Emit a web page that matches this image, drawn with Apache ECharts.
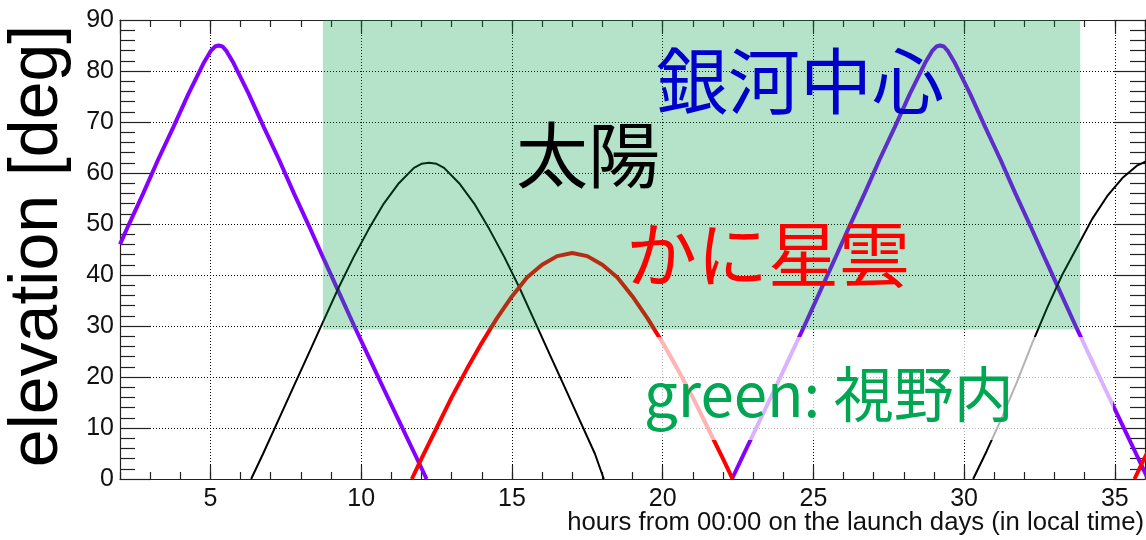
<!DOCTYPE html>
<html>
<head>
<meta charset="utf-8">
<script src="https://cdn.jsdelivr.net/npm/echarts@6/dist/echarts.min.js"></script>
<style>
  html, body { margin: 0; padding: 0; background: #ffffff; }
  #chart { width: 1146px; height: 540px; }
</style>
</head>
<body>
<div id="chart"></div>
<script>
// Elevation of the Galactic Centre, the Sun and the Crab Nebula, [hour, elevation deg]
const gcDay1 = [[2.0,46],[2.27,49.6],[2.77,56],[3.27,62.7],[3.77,69],[4.27,75.5],[4.52,78.5],[4.77,81.5],[5.02,84],[5.15,84.8],[5.27,85],[5.4,84.8],[5.52,84],[5.77,81.5],[6.02,78.5],[6.27,75.5],[6.77,69],[7.27,62.7],[7.77,56],[8.27,49.6],[8.77,43],[9.27,36.5],[9.77,30],[10.27,23.7],[10.77,17.4],[11.27,11.2],[11.77,5],[12.17,0]];
const gcDay2 = [[22.3,0],[22.7,5],[23.2,11.2],[23.7,17.4],[24.2,23.7],[24.7,30],[25.2,36.5],[25.7,43],[26.2,49.6],[26.7,56],[27.2,62.7],[27.7,69],[28.2,75.5],[28.45,78.5],[28.7,81.5],[28.95,84],[29.08,84.8],[29.2,85],[29.33,84.8],[29.45,84],[29.7,81.5],[29.95,78.5],[30.2,75.5],[30.7,69],[31.2,62.7],[31.7,56],[32.2,49.6],[32.7,43],[33.2,36.5],[33.7,30],[34.2,23.7],[34.7,17.4],[35.2,11.2],[35.7,5],[36.1,0]];
const sunDay1 = [[6.35,0],[6.75,5],[7.25,11.5],[7.75,18],[8.25,24.5],[8.75,31],[9.25,37.5],[9.75,43.5],[10.25,49],[10.75,54],[11.25,58],[11.75,61],[12.0,61.8],[12.25,62],[12.5,61.8],[12.75,61],[13.25,58],[13.75,54],[14.25,49],[14.75,43.5],[15.25,37.5],[15.75,31],[16.25,24.5],[16.75,18],[17.25,11.5],[17.75,5],[18.05,0]];
const sunDay2 = [[30.3,0],[30.75,5.5],[31.25,12],[31.75,19],[32.25,26.5],[32.75,33.5],[33.25,40],[33.75,45.5],[34.25,51],[34.75,55.5],[35.25,59],[35.75,61.5],[36.0,62.2],[36.25,62.5]];
const crabDay1 = [[11.68,0],[12,4],[12.5,10],[13,16],[13.5,21.5],[14,26.7],[14.5,31.5],[15,35.8],[15.5,39.5],[16,42],[16.5,43.7],[17,44.3],[17.5,43.7],[18,42],[18.5,39.5],[19,35.8],[19.5,31.5],[20,26.7],[20.5,21.5],[21,16],[21.5,10],[22,4],[22.32,0]];
const crabDay2 = [[35.65,0],[36,4.3],[36.5,10]];

// Field-of-view window: [start hour, min elevation, end hour, max elevation]
const fieldOfView = [[8.73, 29.3, 33.85, 90]];

// Axis ranges
const hourRange = [2, 36];
const elevRange = [0, 90];

const labelNames = {
  gc: '銀河中心',
  sun: '太陽',
  crab: 'かに星雲',
  fov: 'green: 視野内',
  xTitle: 'hours from 00:00 on the launch days (in local time)',
  yTitle: 'elevation [deg]'
};

const FRAME = '#222';
const NUM_FONT = 'Liberation Sans, Arial, sans-serif';
const JP_FONT = '"Noto Sans CJK JP", "Noto Sans", sans-serif';

const chart = echarts.init(document.getElementById('chart'), null, { renderer: 'canvas' });

function xAxisDef(position, major) {
  const ax = {
    type: 'value', position: position, min: hourRange[0], max: hourRange[1],
    axisLine: { show: major, lineStyle: { color: FRAME, width: 1.2 } },
    axisTick: { show: true, inside: true, length: major ? 14 : 7, lineStyle: { color: FRAME, width: 1.2 } },
    axisLabel: { show: false },
    splitLine: { show: false }
  };
  if (major) {
    ax.splitNumber = 5;
  } else {
    ax.interval = 1;
  }
  if (major && position === 'bottom') {
    ax.axisLabel = { show: true, fontSize: 25, color: '#111', fontFamily: NUM_FONT, margin: 8,
                     showMinLabel: false, showMaxLabel: false };
    ax.splitLine = { show: true, lineStyle: { color: '#000', width: 1, type: [1, 2] } };
  }
  return ax;
}

function yAxisDef(position) {
  const left = position === 'left';
  return {
    type: 'value', position: position, min: elevRange[0], max: elevRange[1], interval: 10,
    axisLine: { show: true, lineStyle: { color: FRAME, width: 1.2 } },
    axisTick: { show: true, inside: true, length: 31, lineStyle: { color: FRAME, width: 1.2 } },
    minorTick: { show: true, splitNumber: 5, length: 15, lineStyle: { color: FRAME, width: 1.2 } },
    axisLabel: left ? { show: true, fontSize: 25, color: '#111', fontFamily: NUM_FONT, margin: 6 } : { show: false },
    splitLine: left ? { show: true, lineStyle: { color: '#000', width: 1, type: [1, 2] } } : { show: false }
  };
}

function lineSeries(data, color, width) {
  return {
    type: 'line', data: data, xAxisIndex: 0, yAxisIndex: 0,
    showSymbol: false, symbol: 'none', z: 2,
    lineStyle: { color: color, width: width },
    silent: true
  };
}

const GC_COLOR = '#8400ff';

chart.setOption({
  animation: false,
  backgroundColor: '#ffffff',
  grid: { left: 120, right: 1, top: 20, bottom: 61, containLabel: false },
  xAxis: [xAxisDef('bottom', true), xAxisDef('bottom', false), xAxisDef('top', true), xAxisDef('top', false)],
  yAxis: [yAxisDef('left'), yAxisDef('right')],
  series: [
    lineSeries(gcDay1, GC_COLOR, 4),
    lineSeries(gcDay2, GC_COLOR, 4),
    lineSeries(sunDay1, '#000000', 2),
    lineSeries(sunDay2, '#000000', 2),
    lineSeries(crabDay1, '#ff0000', 4),
    lineSeries(crabDay2, '#ff0000', 4),
    {
      type: 'custom', xAxisIndex: 0, yAxisIndex: 0, z: 3, silent: true, clip: true,
      data: fieldOfView,
      encode: { x: [0, 2], y: [1, 3] },
      renderItem: function (params, api) {
        const p0 = api.coord([api.value(0), api.value(3)]);
        const p1 = api.coord([api.value(2), api.value(1)]);
        return {
          type: 'rect',
          shape: { x: p0[0], y: p0[1], width: p1[0] - p0[0], height: p1[1] - p0[1] },
          style: { fill: 'rgba(0,159,69,0.29)' }
        };
      }
    }
  ],
  graphic: [
    { type: 'rect', z: 50, silent: true,
      shape: { x: 633, y: 337, width: 480, height: 103 },
      style: { fill: 'rgba(255,255,255,0.7)' } },
    { type: 'text', z: 60, x: 656, y: 81, silent: true,
      style: { text: labelNames.gc, font: '72px ' + JP_FONT, fill: '#0000cd', align: 'left', verticalAlign: 'middle' } },
    { type: 'text', z: 60, x: 516, y: 155, silent: true,
      style: { text: labelNames.sun, font: '72px ' + JP_FONT, fill: '#000000', align: 'left', verticalAlign: 'middle' } },
    { type: 'text', z: 60, x: 626, y: 254, silent: true,
      style: { text: labelNames.crab, font: '71px ' + JP_FONT, fill: '#ff0000', align: 'left', verticalAlign: 'middle' } },
    { type: 'text', z: 60, x: 644, y: 394, silent: true,
      style: { text: labelNames.fov, font: '60px ' + JP_FONT, fill: '#00a651', align: 'left', verticalAlign: 'middle' } },
    { type: 'text', z: 60, x: 1144, y: 523, silent: true,
      style: { text: labelNames.xTitle, font: '25.7px ' + NUM_FONT, fill: '#111', align: 'right', verticalAlign: 'middle' } },
    { type: 'text', z: 60, x: 38, y: 246, rotation: Math.PI / 2, silent: true,
      style: { text: labelNames.yTitle, font: '68px ' + NUM_FONT, fill: '#000', align: 'center', verticalAlign: 'middle' } }
  ]
});
</script>
</body>
</html>
